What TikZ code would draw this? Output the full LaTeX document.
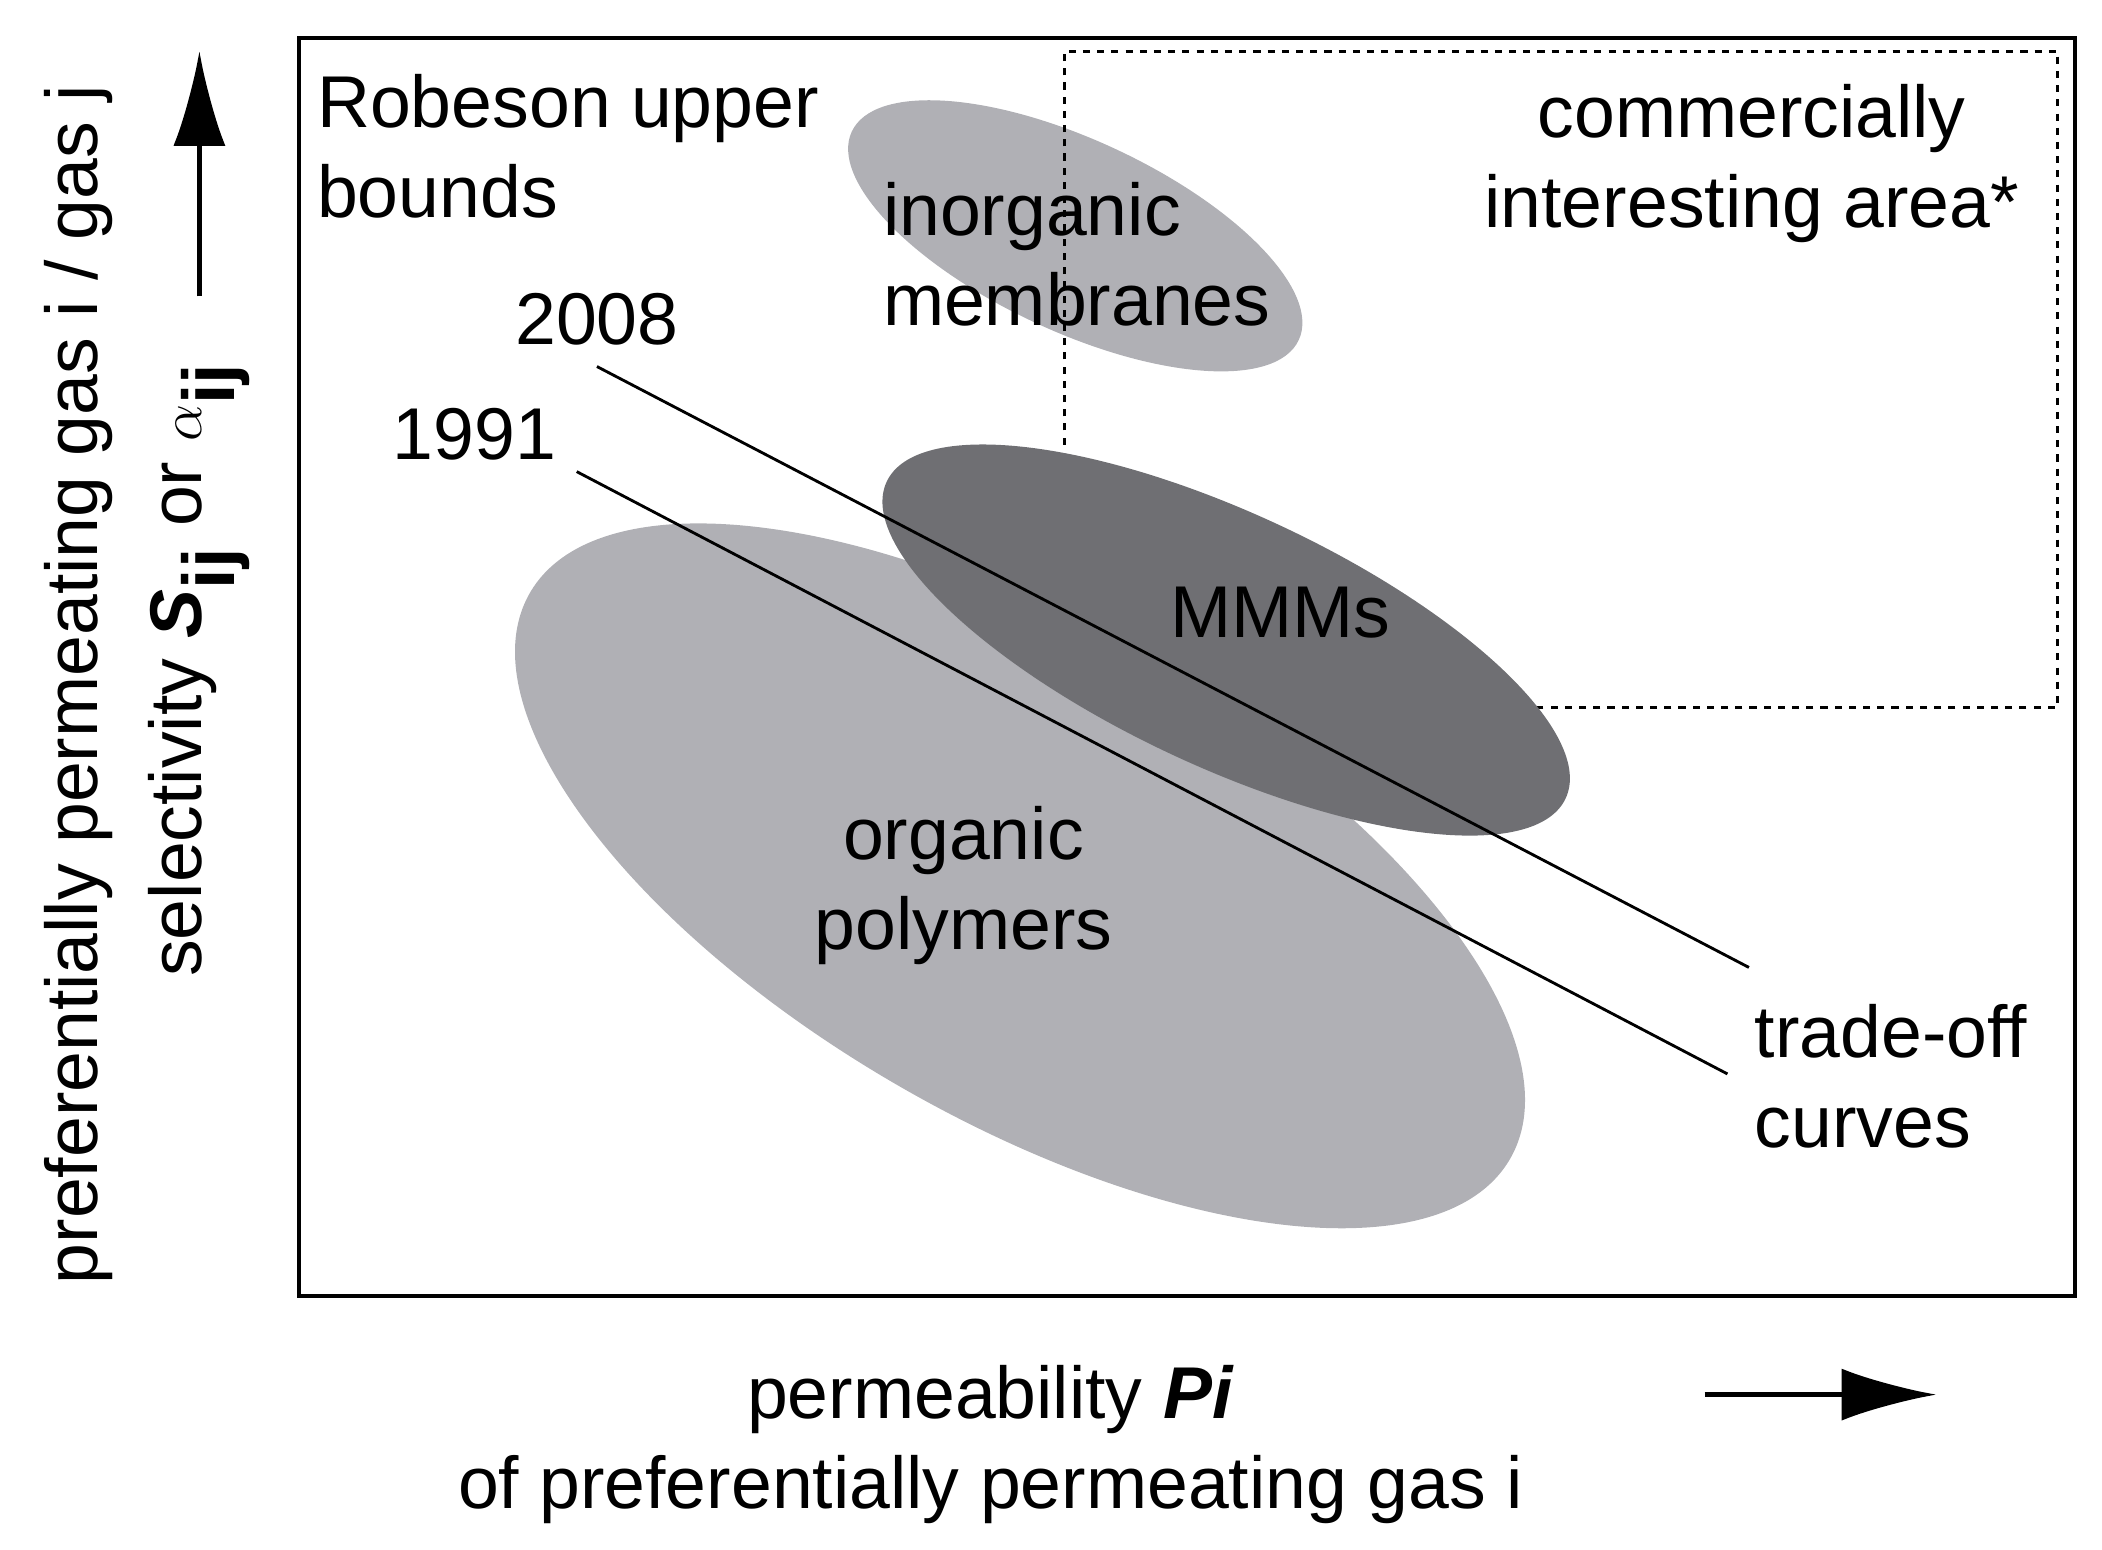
\documentclass[tikz,border=0pt]{standalone}
\usepackage{fontspec}
\setmainfont{Liberation Sans}
\usetikzlibrary{arrows.meta}
\begin{document}
\begin{tikzpicture}[x=0.02cm,y=0.02cm,
  lbl/.style={font=\fontsize{31}{38}\selectfont,inner sep=0pt},
  blob/.style={fill=#1,draw=none}]
\useasboundingbox (0,0) rectangle (1560,-1150);
\definecolor{lg}{RGB}{176,176,181}
\definecolor{dg}{RGB}{111,111,115}
% inorganic
\fill[lg] (798,-175) ellipse[x radius=183,y radius=71,rotate=-25];
% dashed area
\draw[dashed,line width=1.2pt] (790,-330) -- (790,-38) -- (1527,-38) -- (1527,-525) -- (790,-525);
% organic
\fill[lg] (757,-650) ellipse[x radius=420,y radius=180,rotate=-30];
% MMM
\fill[dg] (910,-475) ellipse[x radius=278,y radius=94,rotate=-25];
% frame
\node[draw,line width=1.5pt,minimum width=1318*0.02cm,minimum height=934*0.02cm,inner sep=0pt] (frame) at (881,-495) {};
% lines
\coordinate (a1) at (443,-272); \coordinate (a2) at (1298,-718);
\coordinate (b1) at (428,-350); \coordinate (b2) at (1282,-797);
\draw[line width=1.2pt] (a1) -- (a2);
\draw[line width=1.2pt] (b1) -- (b2);
% texts
\node[lbl,anchor=north west,align=left] (rob) at (235,-55) {Robeson upper\\bounds};
\node[lbl] (y08) at (443,-237) {2008};
\node[lbl] (y91) at (352,-322) {1991};
\node[lbl,anchor=north west,align=left] (inorg) at (655,-135) {inorganic\\membranes};
\node[lbl,align=center] (comm) at (1300,-121) {commercially\\interesting area*};
\node[lbl] (mmm) at (950,-455) {MMMs};
\node[lbl,align=center] (org) at (715,-657) {organic\\polymers};
\node[lbl,anchor=north west,align=left] (trade) at (1302,-745) {trade-off\\curves};
% axes labels
\node[lbl,rotate=90] (yl1) at (58,-508) {preferentially permeating gas i / gas j};
\node[lbl,rotate=90] (yl2) at (148,-497) {selectivity \textbf{\textit{S}}$_{\textbf{ij}}$ or $\alpha_{\textbf{ij}}$};
\coordinate (ya) at (148,-220); \coordinate (yb) at (148,-38);
\draw[line width=2pt,-{Latex[length=40pt,width=22pt]}] (ya) -- (yb);
\node[lbl,align=center] (xl) at (735,-1072) {permeability \textbf{\textit{Pi}}\\of preferentially permeating gas i};
\coordinate (xa) at (1265,-1035); \coordinate (xb) at (1437,-1035);
\draw[line width=2pt,-{Latex[length=40pt,width=22pt]}] (xa) -- (xb);
\end{tikzpicture}
\end{document}
